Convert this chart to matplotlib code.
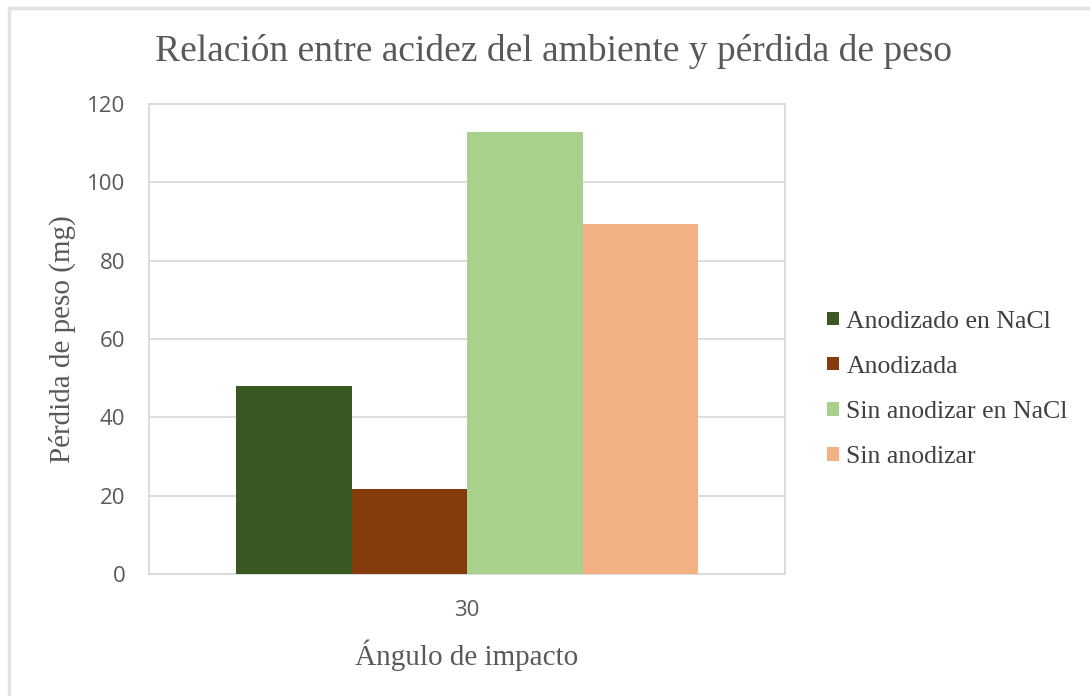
import matplotlib.pyplot as plt
import numpy as np
from matplotlib.patches import Rectangle

# Pérdida de peso por condición, ángulo de impacto 30°
categories = ['30']
series = ['Anodizado en NaCl', 'Anodizada', 'Sin anodizar en NaCl', 'Sin anodizar']
values = [48.1, 21.6, 112.8, 89.4]
colors = ['#3B5724', '#843C0C', '#A9D18E', '#F4B183']
y_ticks = [0, 20, 40, 60, 80, 100, 120]

serif = 'Liberation Serif'
sans = 'Open Sans'

fig = plt.figure(figsize=(10.9, 6.96), dpi=100)
ax = fig.add_axes([0.1367, 0.1753, 0.5835, 0.6753])

# outer frame of the chart
fig.patches.append(Rectangle((9 / 1090, -0.1), 1.2, 1 - 8 / 696 + 0.1, transform=fig.transFigure,
                             fill=False, edgecolor='#E3E3E3', linewidth=2.5))

bar_w = 0.1816
x = np.arange(len(categories))
for i, (name, val, col) in enumerate(zip(series, values, colors)):
    offset = (i - 1.5) * bar_w
    ax.bar(x + offset, [val], width=bar_w, color=col, label=name, zorder=3)

ax.set_xlim(-0.5, 0.5)
ax.set_ylim(0, 120)
ax.set_yticks(y_ticks)
ax.set_xticks(x)
ax.set_xticklabels(categories)
ax.yaxis.grid(True, color='#D9D9D9', linewidth=1.3, zorder=0)
for s in ax.spines.values():
    s.set_color('#D9D9D9')
    s.set_linewidth(1.3)
ax.tick_params(length=0, labelsize=16, colors='#595959')
for lab in ax.get_xticklabels() + ax.get_yticklabels():
    lab.set_fontfamily(sans)
ax.tick_params(axis='y', pad=17)
ax.tick_params(axis='x', pad=19)

ax.set_ylabel('Pérdida de peso (mg)', fontfamily=serif, fontsize=21, color='#595959', labelpad=8)
ax.set_xlabel('Ángulo de impacto', fontfamily=serif, fontsize=21, color='#595959', labelpad=13)
fig.text(0.508, 0.926, 'Relación entre acidez del ambiente y pérdida de peso', ha='center', va='center',
         fontfamily=serif, fontsize=27, color='#595959')

leg = ax.legend(loc='center left', bbox_to_anchor=(1.030, 0.393), frameon=False,
                prop={'family': serif, 'size': 18.5}, handlelength=0.45, handleheight=0.45,
                handletextpad=0.3, labelspacing=0.9, borderpad=0.4)
for t in leg.get_texts():
    t.set_color('#404040')

fig.savefig('out.png', dpi=100, facecolor='white')
